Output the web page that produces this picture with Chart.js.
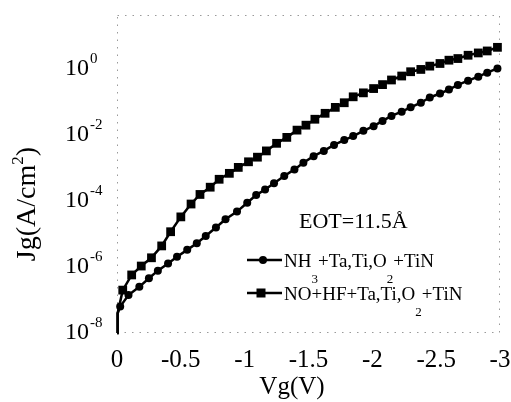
<!DOCTYPE html>
<html><head><meta charset="utf-8">
<script src="https://cdn.jsdelivr.net/npm/chart.js@4.4.1/dist/chart.umd.min.js"></script>
<style>html,body{margin:0;padding:0;background:#fff;}#wrap{width:511px;height:402px;position:relative;}</style>
</head><body><div id="wrap"><canvas id="c" width="511" height="402"></canvas></div>
<script>
// Gate voltage (V) and log10 of gate current density Jg (A/cm^2)
const vgNH3 = [0, -0.005, -0.025, -0.09, -0.175, -0.25, -0.32, -0.40, -0.47, -0.55, -0.625, -0.695,
  -0.775, -0.85, -0.94, -1.02, -1.09, -1.16, -1.23, -1.31, -1.39, -1.46, -1.54, -1.62, -1.70, -1.78,
  -1.85, -1.93, -2.01, -2.08, -2.15, -2.23, -2.30, -2.38, -2.45, -2.53, -2.60, -2.67, -2.75, -2.83, -2.90, -2.98];
const logJgNH3 = [-8, -7.4, -7.20, -6.85, -6.60, -6.34, -6.11, -5.89, -5.69, -5.48, -5.28, -5.06,
  -4.80, -4.55, -4.32, -4.05, -3.82, -3.65, -3.46, -3.24, -3.04, -2.84, -2.64, -2.48, -2.30, -2.15,
  -2.03, -1.87, -1.73, -1.57, -1.42, -1.29, -1.16, -1.02, -0.86, -0.74, -0.62, -0.48, -0.35, -0.23, -0.11, 0.02];
const vgNOHF = [0, -0.005, -0.045, -0.115, -0.19, -0.27, -0.35, -0.42, -0.50, -0.58, -0.65, -0.73,
  -0.80, -0.88, -0.95, -1.03, -1.10, -1.17, -1.25, -1.33, -1.41, -1.48, -1.55, -1.63, -1.71, -1.78,
  -1.85, -1.93, -2.01, -2.08, -2.15, -2.23, -2.30, -2.38, -2.45, -2.53, -2.60, -2.67, -2.75, -2.83, -2.90, -2.98];
const logJgNOHF = [-8, -7.4, -6.70, -6.24, -5.97, -5.72, -5.36, -4.93, -4.48, -4.09, -3.80, -3.58,
  -3.34, -3.16, -2.98, -2.81, -2.67, -2.48, -2.25, -2.07, -1.85, -1.70, -1.52, -1.34, -1.16, -1.02,
  -0.84, -0.72, -0.59, -0.47, -0.33, -0.21, -0.08, -0.01, 0.09, 0.17, 0.27, 0.32, 0.42, 0.49, 0.55, 0.66];

const xTickValues = [0, -0.5, -1, -1.5, -2, -2.5, -3];
const xTickLabels = ['0', '-0.5', '-1', '-1.5', '-2', '-2.5', '-3'];
const yTickExps = [-8, -6, -4, -2, 0];
const yTickLabels = ['-8', '-6', '-4', '-2', '0'];
const legendNH3 = [['NH', 0], ['3', 1], ['+Ta,Ti,O', 0], ['2', 1], ['+TiN', 0]];
const legendNOHF = [['NO+HF+Ta,Ti,O', 0], ['2', 1], ['+TiN', 0]];
const annotationText = 'EOT=11.5Å';
const xTitle = 'Vg(V)';

const serif = '"Liberation Serif","Times New Roman",serif';

function pts(xs, ls) { return xs.map((v, i) => ({ x: v, y: Math.pow(10, ls[i]) })); }

const decor = {
  id: 'decor',
  beforeDatasetsDraw(chart) {
    const { ctx, chartArea: a } = chart;
    ctx.save();
    ctx.strokeStyle = '#9a9a9a';
    ctx.lineWidth = 1;
    ctx.setLineDash([1.5, 6]);
    ctx.strokeRect(a.left + 0.5, a.top + 0.5, a.right - a.left - 1, a.bottom - a.top - 1);
    ctx.restore();
  },
  afterDraw(chart) {
    const { ctx, scales } = chart;
    const xs = scales.x, ys = scales.y;
    ctx.save();
    ctx.fillStyle = '#000';
    ctx.strokeStyle = '#000';
    // y tick labels 10^n
    yTickExps.forEach((e, i) => {
      const y = ys.getPixelForValue(Math.pow(10, e));
      ctx.font = '24px ' + serif;
      ctx.textAlign = 'right';
      ctx.textBaseline = 'middle';
      ctx.fillText('10', 89, y);
      ctx.font = '15px ' + serif;
      ctx.textAlign = 'left';
      ctx.fillText(yTickLabels[i], 90, y - 10);
    });
    // x tick labels
    ctx.font = '25px ' + serif;
    ctx.textAlign = 'center';
    ctx.textBaseline = 'alphabetic';
    xTickValues.forEach((v, i) => {
      ctx.fillText(xTickLabels[i], xs.getPixelForValue(v), 367);
    });
    // x title
    ctx.font = '25px ' + serif;
    ctx.fillText(xTitle, 292, 394);
    // y title
    ctx.save();
    ctx.translate(35, 204);
    ctx.rotate(-Math.PI / 2);
    ctx.textAlign = 'left';
    ctx.font = '28px ' + serif;
    const w1 = ctx.measureText('Jg(A/cm').width;
    ctx.font = '17px ' + serif;
    const w2 = ctx.measureText('2').width;
    ctx.font = '28px ' + serif;
    const w3 = ctx.measureText(')').width;
    const s = -(w1 + w2 + w3) / 2;
    ctx.fillText('Jg(A/cm', s, 0);
    ctx.font = '17px ' + serif;
    ctx.fillText('2', s + w1, -12);
    ctx.font = '28px ' + serif;
    ctx.fillText(')', s + w1 + w2, 0);
    ctx.restore();
    // annotation
    ctx.textAlign = 'left';
    ctx.font = '22px ' + serif;
    ctx.fillText(annotationText, 299, 228);
    // legend
    function legendRow(y, segs, marker, mx) {
      ctx.lineWidth = 2.4;
      ctx.beginPath(); ctx.moveTo(247, y); ctx.lineTo(282, y); ctx.stroke();
      if (marker === 'circle') { ctx.beginPath(); ctx.arc(mx, y, 4, 0, Math.PI * 2); ctx.fill(); }
      else { ctx.fillRect(mx - 4.5, y - 4.5, 9, 9); }
      let x = 284;
      segs.forEach(([t, sub]) => {
        ctx.font = (sub ? '13px ' : '19px ') + serif;
        ctx.fillText(t, x, sub ? y + 23 : y + 7);
        x += ctx.measureText(t).width;
      });
    }
    legendRow(260, legendNH3, 'circle', 263);
    legendRow(293, legendNOHF, 'rect', 261);
    ctx.restore();
  }
};

new Chart(document.getElementById('c'), {
  type: 'line',
  data: {
    datasets: [
      {
        label: 'NH3+Ta,Ti,O2+TiN', data: pts(vgNH3, logJgNH3),
        borderColor: '#000', backgroundColor: '#000', pointBackgroundColor: '#000',
        borderWidth: 2.5, pointStyle: 'circle', pointBorderWidth: 0,
        pointRadius: vgNH3.map((v, i) => i < 2 ? 0 : 4), tension: 0, clip: false
      },
      {
        label: 'NO+HF+Ta,Ti,O2+TiN', data: pts(vgNOHF, logJgNOHF),
        borderColor: '#000', backgroundColor: '#000', pointBackgroundColor: '#000',
        borderWidth: 2.5, pointStyle: 'rect', pointBorderWidth: 0,
        pointRadius: vgNOHF.map((v, i) => i < 2 ? 0 : 6.2), tension: 0, clip: false
      }
    ]
  },
  options: {
    responsive: false, animation: false,
    layout: { padding: { left: 117, right: 11, top: 15, bottom: 69 } },
    scales: {
      x: { type: 'linear', min: -3, max: 0, reverse: true, display: false },
      y: { type: 'logarithmic', min: 1e-8, max: Math.pow(10, 1.64), display: false }
    },
    plugins: { legend: { display: false }, tooltip: { enabled: false } }
  },
  plugins: [decor]
});
</script></body></html>
